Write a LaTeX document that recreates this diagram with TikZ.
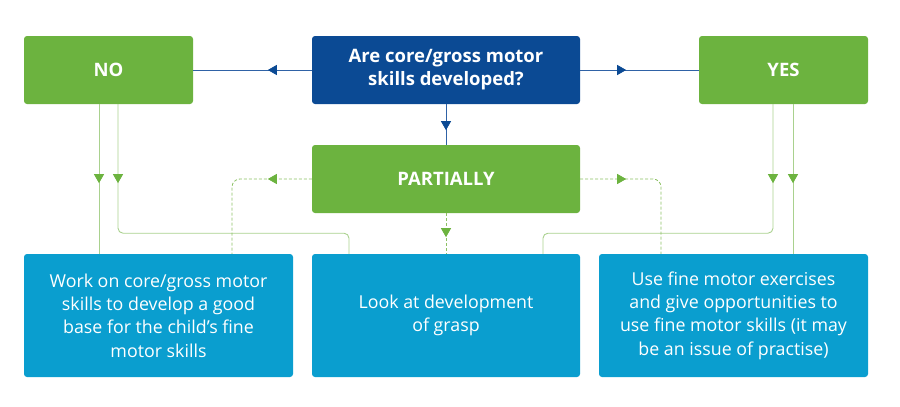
\documentclass[tikz,border=0pt]{standalone}
\usepackage{fontspec}
\setmainfont{Open Sans}
\usetikzlibrary{arrows.meta,calc,decorations.markings}
\definecolor{pgreen}{HTML}{6CB33F}
\definecolor{pnavy}{HTML}{0B4A94}
\definecolor{pcyan}{HTML}{0A9ECF}
\definecolor{plink}{HTML}{A9D18E}
\definecolor{pdash}{HTML}{8CC063}
\definecolor{pblueline}{HTML}{2F62A6}

\begin{document}
\begin{tikzpicture}[
  x=1pt,y=-1pt,
  base/.style={rounded corners=3pt,align=center,text=white,inner sep=0pt},
  answer/.style={base,fill=pgreen,minimum height=68pt,font=\bfseries\fontsize{18.5}{23}\selectfont},
  question/.style={base,fill=pnavy,minimum width=268pt,minimum height=68pt,font=\bfseries\fontsize{18.5}{23}\selectfont},
  action/.style={base,fill=pcyan,minimum height=123pt,font=\fontsize{17.8}{23.3}\selectfont},
  midtip/.style 2 args={postaction={decorate},decoration={markings,
    mark=at position #1 with {\arrow[#2]{Triangle[width=10pt,length=9pt]}}}},
  bluearrow/.style={draw=pblueline,line width=.8pt,midtip={#1}{pnavy}},
  greenarrow/.style={draw=plink,line width=.9pt,rounded corners=5pt,midtip={#1}{pgreen}},
  dasharrow/.style={draw=pdash,line width=.8pt,dash pattern=on 3pt off 2pt,rounded corners=8pt,midtip={#1}{pgreen}}
]
\useasboundingbox (0,0) rectangle (900,407);

% Top row: the question and its two clear answers.
\node[question] (quest) at (446,70) {Are core/gross motor\\skills developed?};
\node[answer,minimum width=169pt] (no) at (108.5,70) {NO};
\node[answer,minimum width=169pt] (yes) at (783.5,70) {YES};
\node[answer,minimum width=268pt] (part) at (446,179) {PARTIALLY};

% Bottom row: what to do next.
\node[action,minimum width=269pt] (work) at (158.5,315.5)
  {Work on core/gross motor\\skills to develop a good\\base for the child's fine\\motor skills};
\node[action,minimum width=268pt] (look) at (446,315.5)
  {Look at development\\of grasp};
\node[action,minimum width=269pt] (use) at (733.5,315.5)
  {Use fine motor exercises\\and give opportunities to\\use fine motor skills (it may\\be an issue of practise)};

% Question to answers.
\draw[bluearrow=44pt] (quest.west) -- (no.east);
\draw[bluearrow=46pt] (quest.east) -- (yes.west);
\draw[bluearrow=26pt] (quest.south) -- (part.north);

% Answers to actions.
\draw[greenarrow=79pt] ([xshift=-9.5pt]no.south) -- ([xshift=-9.5pt]no.south |- work.north);
\draw[greenarrow=79pt] ([xshift=9.5pt]no.south) -- ++(0,129) -| ([xshift=-97pt]look.north);
\draw[greenarrow=79pt] ([xshift=-10.5pt]yes.south) -- ++(0,129) -| ([xshift=97pt]look.north);
\draw[greenarrow=79pt] ([xshift=9.5pt]yes.south) -- ([xshift=9.5pt]yes.south |- use.north);
\draw[dasharrow=24pt] (part.south) -- (look.north);
\draw[dasharrow=44pt] (part.west) -| ([xshift=73.5pt]work.north);
\draw[dasharrow=46pt] (part.east) -| ([xshift=-72.5pt]use.north);
\end{tikzpicture}
\end{document}
